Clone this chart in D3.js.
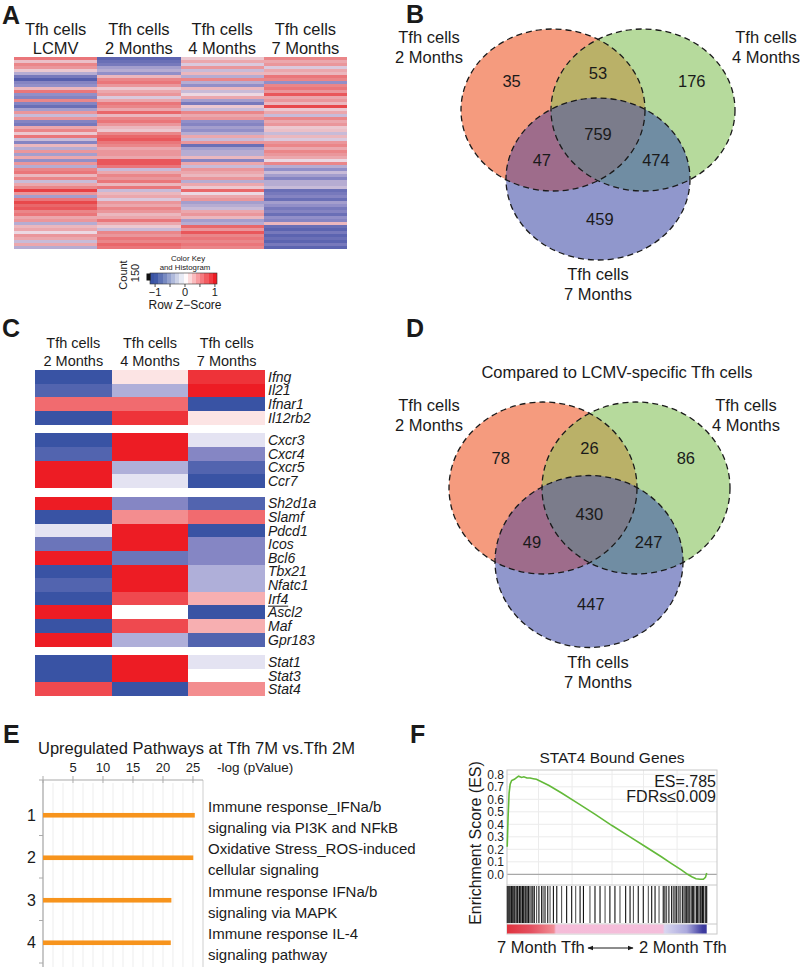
<!DOCTYPE html>
<html><head><meta charset="utf-8">
<script src="https://cdn.jsdelivr.net/npm/d3@7"></script>
<style>
body{margin:0;background:#fff;}
svg{display:block;font-family:"Liberation Sans",Arial,Helvetica,sans-serif;}
</style></head><body>
<svg id="fig" width="800" height="975"></svg>
<script>
// ================= DATA =================
// Panel A: row z-scores (64 binned rows per column, top to bottom)
const heatAColumns = ["LCMV", "2 Months", "4 Months", "7 Months"];
const heatA_LCMV = [0.6,0.15,0.5,0.4,0.1,-0.3,-0.7,-0.95,-0.6,-0.5,0.2,0.6,-0.5,-0.6,0.5,-0.6,-0.8,-0.4,0.4,-0.2,0.4,-0.6,-0.7,0.3,0.5,0.1,0.6,-0.2,-0.6,0.2,-0.3,0.4,
  -0.4,0.3,-0.5,0.4,-0.3,0.5,0.6,0.2,0.5,-0.2,0.3,0.5,0.95,0.4,-0.4,0.6,0.9,0.7,0.8,0.5,0.6,0.3,0.4,-0.3,0.2,0.3,0.0,0.4,0.3,-0.2,0.3,-0.3];
const heatA_2M = [-0.9,-0.8,-0.7,-0.4,-0.3,-0.5,0.2,0.5,0.6,0.4,0.1,0.3,0.4,-0.1,0.3,0.6,0.5,0.3,0.7,0.2,0.5,0.6,0.4,0.2,0.1,0.5,0.7,0.8,0.6,0.5,0.3,0.4,
  0.4,0.3,0.8,0.8,0.6,-0.2,0.3,0.5,0.4,0.6,0.2,0.6,-0.2,0.2,0.3,-0.1,0.4,0.3,0.5,0.4,0.2,0.3,0.6,0.3,0.1,-0.2,0.5,0.4,0.6,0.5,0.7,0.6];
const heatA_4M = [0.1,0.3,-0.1,0.4,-0.2,0.2,-0.3,0.5,-0.3,-0.5,0.2,-0.2,0.0,0.3,-0.4,-0.7,0.1,-0.2,0.5,0.3,0.4,-0.5,-0.6,-0.4,-0.5,-0.3,0.3,-0.2,0.4,-0.8,-0.4,-0.3,
  -0.3,0.2,-0.6,0.3,-0.2,0.4,0.3,0.2,0.4,-0.3,0.3,0.1,0.7,0.0,0.3,0.4,-0.4,-0.3,-0.2,0.3,0.4,0.2,-0.4,-0.3,0.7,0.4,0.8,0.5,0.6,0.5,0.6,0.5];
const heatA_7M = [0.5,0.3,0.4,-0.1,0.3,0.2,0.6,0.5,-0.5,0.5,0.6,0.4,0.8,0.3,0.4,0.2,0.9,0.1,0.3,-0.2,0.5,0.3,0.4,0.1,0.15,-0.2,0.2,-0.1,0.4,0.5,0.3,0.5,
  0.4,0.3,0.0,0.5,-0.3,-0.5,-0.2,-0.4,-0.6,-0.3,-0.3,-0.2,-0.8,-0.7,-0.6,-0.8,-0.4,-0.5,-0.7,-0.6,-0.8,-0.5,-0.6,0.2,-0.8,-0.9,-0.7,-0.9,-0.8,-0.9,-0.7,-0.9];
const colorKeyTicks = [-1, -0.5, 0, 0.5, 1];
const colorKeyLabels = [-1, 0, 1];

// Panel C
const heatCColumns = ["2 Months", "4 Months", "7 Months"];
const heatCGenes = ["Ifng","Il21","Ifnar1","Il12rb2","Cxcr3","Cxcr4","Cxcr5","Ccr7",
  "Sh2d1a","Slamf","Pdcd1","Icos","Bcl6","Tbx21","Nfatc1","Irf4","Ascl2","Maf","Gpr183",
  "Stat1","Stat3","Stat4"];
const heatCGroup = [0,0,0,0,1,1,1,1,2,2,2,2,2,2,2,2,2,2,2,3,3,3];
const heatC_2M = [-1,-0.85,0.65,-1,-1,-0.85,1,1,1,-1,-0.12,-0.7,1,-1,-0.85,-1,1,-1,1,-1,-1,0.8];
const heatC_4M = [0.12,-0.35,0.65,0.9,1,1,-0.35,-0.12,-0.55,0.5,1,1,-0.7,1,1,0.8,0,0.8,-0.35,1,1,-1];
const heatC_7M = [0.9,1,-1,0.12,-0.12,-0.55,-0.85,-1,-0.85,0.65,-1,-0.55,-0.55,-0.35,-0.35,0.35,-1,0.35,-0.85,-0.12,0,0.5];
const underlinedGenes = ["Irf4"];

// Panels B & D (Venn)
const vennSetNames = ["2 Months", "4 Months", "7 Months"];
const vennRegions = ["2M", "2M&4M", "4M", "2M&4M&7M", "2M&7M", "4M&7M", "7M"];
const vennB_counts = [35, 53, 176, 759, 47, 474, 459];
const vennD_counts = [78, 26, 86, 430, 49, 247, 447];
const vennD_title = "Compared to LCMV-specific Tfh cells";

// Panel E
const pathwayRanks = [1, 2, 3, 4];
const pathwayLine1 = ["Immune response_IFNa/b", "Oxidative Stress_ROS-induced", "Immune response IFNa/b", "Immune response IL-4"];
const pathwayLine2 = ["signaling via PI3K and NFkB", "cellular signaling", "signaling via MAPK", "signaling pathway"];
const pathwayValues = [25.3, 25.05, 21.4, 21.3];
const pathwayTicks = [5, 10, 15, 20, 25];

// Panel F (GSEA): rank position (% of list) and running enrichment score
const esRank  = [0.1,0.5,1,1.5,2.2,3.5,5,5.5,7,8,9.5,11,12.5,14,20,26,34,42,50,58,66,73.5,78,83,86,88,90,92,93.5,94.5,95.1];
const esScore = [0.22,0.45,0.65,0.72,0.75,0.76,0.78,0.785,0.775,0.78,0.77,0.77,0.765,0.76,0.71,0.65,0.565,0.48,0.39,0.305,0.22,0.14,0.09,0.035,0.0,-0.02,-0.035,-0.04,-0.04,-0.025,0.01];
const hitRanks = [0.16,0.6,0.95,1.4,1.75,2.1,2.54,3.0,3.4,3.8,4.4,4.8,5.1,5.7,6.0,6.3,7.0,7.4,7.8,8.25,8.9,9.5,9.9,10.2,10.95,11.75,12.3,13.0,14.1,15.2,16.5,17.2,18.1,19.4,20.5,22.1,23.7,
  26,28.4,30.8,32.7,34.8,36.4,39.5,41.9,44.3,46.7,49,51.4,53.8,56.5,58.6,60.2,62.5,64.9,67.3,68.9,70.5,72.4,
  74.4,75.2,76,77.1,78.4,79.2,80,80.8,81.6,82.4,83.5,84.2,84.8,85.4,86,86.6,87.1,87.9,88.4,88.9,89.5,90.3,90.7,91.1,91.9,92.3,92.7,93.1,93.5,94.3,94.7,95.1];
const esTicks = [0,0.1,0.2,0.3,0.4,0.5,0.6,0.7,0.8];
const esGridRanks = [15, 31, 50, 65, 81];

// ================= DRAW =================
const svg = d3.select("#fig");
const INK = "#1a1a1a";
const defs = svg.append("defs");

// panel letters
[["A",2,24],["B",406,23],["C",2,337],["D",406,337],["E",3,743],["F",410,743]].forEach(([t,x,y]) =>
  svg.append("text").attr("x",x).attr("y",y).attr("font-size",25).attr("font-weight","bold").attr("fill",INK).text(t));

// ---------- Panel A ----------
const colA = d3.scaleLinear().domain([-1,-0.5,0,0.5,1])
  .range(["#4f59aa","#928fc8","#ecd8e2","#ea8689","#e8383c"]).clamp(true);
const xA = d3.scaleBand().domain(heatAColumns).range([14,347]);
const yA = d3.scaleBand().domain(d3.range(heatA_LCMV.length)).range([57,249]);
const colsA = [heatA_LCMV, heatA_2M, heatA_4M, heatA_7M];
const gA = svg.append("g");
colsA.forEach((vals, ci) => {
  gA.selectAll(null).data(vals).enter().append("rect")
    .attr("x", xA(heatAColumns[ci])).attr("width", xA.bandwidth())
    .attr("y", (d,i)=>yA(i)).attr("height", yA.bandwidth()+0.3)
    .attr("fill", d=>colA(d)).attr("shape-rendering","crispEdges");
  const cx = xA(heatAColumns[ci]) + xA.bandwidth()/2;
  gA.append("text").attr("x",cx).attr("y",35).attr("text-anchor","middle").attr("font-size",16.5).attr("fill",INK).text("Tfh cells");
  gA.append("text").attr("x",cx).attr("y",54).attr("text-anchor","middle").attr("font-size",16.5).attr("fill",INK).text(heatAColumns[ci]);
});
// color key
const keyCol = d3.scaleLinear().domain([-1,0,1]).range(["#3953a4","#ffffff","#ed1c24"]).clamp(true);
const xKey = d3.scaleLinear().domain([-1.17,1.07]).range([150,217]);
const keyBins = d3.range(16).map(i => -1.17 + i*(2.24/16));
gA.selectAll(null).data(keyBins).enter().append("rect")
  .attr("x", d=>xKey(d)).attr("width", xKey(-1.17+2.24/16)-xKey(-1.17)+0.3)
  .attr("y",273).attr("height",11).attr("fill", d=>keyCol(d+0.07)).attr("shape-rendering","crispEdges");
gA.append("rect").attr("x",150).attr("y",273).attr("width",67).attr("height",11).attr("fill","none").attr("stroke","#333").attr("stroke-width",0.6);
gA.append("rect").attr("x",146.5).attr("y",273.5).attr("width",4).attr("height",7).attr("fill","#111");
colorKeyTicks.forEach(t => gA.append("line").attr("x1",xKey(t)).attr("x2",xKey(t)).attr("y1",284).attr("y2",287).attr("stroke","#222").attr("stroke-width",0.8));
colorKeyLabels.forEach(t => gA.append("text").attr("x",xKey(t)).attr("y",296).attr("text-anchor","middle").attr("font-size",11).attr("fill",INK).text(t<0?"\u2212"+Math.abs(t):t));
gA.append("text").attr("x",188).attr("y",260.5).attr("text-anchor","middle").attr("font-size",7.8).attr("fill",INK).text("Color Key");
gA.append("text").attr("x",185).attr("y",269.5).attr("text-anchor","middle").attr("font-size",7.8).attr("fill",INK).text("and Histogram");
gA.append("text").attr("x",185).attr("y",308.5).attr("text-anchor","middle").attr("font-size",12).attr("fill",INK).text("Row Z\u2212Score");
gA.append("text").attr("transform","translate(127,275) rotate(-90)").attr("text-anchor","middle").attr("font-size",11).attr("fill",INK).text("Count");
gA.append("text").attr("transform","translate(139,273) rotate(-90)").attr("text-anchor","middle").attr("font-size",11).attr("fill",INK).text("150");

// ---------- Panel C ----------
const colC = d3.scaleLinear().domain([-1,-0.5,0,0.5,1])
  .range(["#3953a4","#8d8cc8","#ffffff","#f38d8f","#ed1c24"]).clamp(true);
const xC = d3.scaleBand().domain(heatCColumns).range([35,265]);
const gapUnits = 0.65;
const nGroups = d3.max(heatCGroup)+1;
const yC = d3.scaleLinear().domain([0, heatCGenes.length + (nGroups-1)*gapUnits]).range([370,696]);
const rowH = yC(1)-yC(0);
const rowY = i => yC(i + heatCGroup[i]*gapUnits);
const gC = svg.append("g");
[heatC_2M, heatC_4M, heatC_7M].forEach((vals, ci) => {
  gC.selectAll(null).data(vals).enter().append("rect")
    .attr("x", xC(heatCColumns[ci])).attr("width", xC.bandwidth()+0.3)
    .attr("y", (d,i)=>rowY(i)).attr("height", rowH+0.3)
    .attr("fill", d=>colC(d)).attr("shape-rendering","crispEdges");
  const cx = xC(heatCColumns[ci]) + xC.bandwidth()/2;
  gC.append("text").attr("x",cx).attr("y",348).attr("text-anchor","middle").attr("font-size",14.5).attr("fill",INK).text("Tfh cells");
  gC.append("text").attr("x",cx).attr("y",366).attr("text-anchor","middle").attr("font-size",14.5).attr("fill",INK).text(heatCColumns[ci]);
});
heatCGenes.forEach((g,i) => {
  const t = gC.append("text").attr("x",268).attr("y",rowY(i)+rowH/2+5).attr("font-size",14)
    .attr("font-style","italic").attr("fill",INK).text(g);
  if (underlinedGenes.includes(g)) {
    const w = t.node().getComputedTextLength();
    gC.append("line").attr("x1",268).attr("x2",268+w).attr("y1",rowY(i)+rowH/2+7.5).attr("y2",rowY(i)+rowH/2+7.5).attr("stroke",INK).attr("stroke-width",1);
  }
});

// ---------- Venn panels ----------
const vennFill = {a:"#f59b7e", b:"#b6da9c", c:"#9097cc", ab:"#bab168", ac:"#9e6c8b", bc:"#708da3", abc:"#7b7c8b"};
function venn(id, centers, rx, ry, counts, labels) {
  const g = svg.append("g");
  centers.forEach((c,i) => {
    defs.append("clipPath").attr("id",`${id}clip${i}`).append("ellipse")
      .attr("cx",c[0]).attr("cy",c[1]).attr("rx",rx).attr("ry",ry);
  });
  const ell = (parent, c, fill) => parent.append("ellipse").attr("cx",c[0]).attr("cy",c[1]).attr("rx",rx).attr("ry",ry).attr("fill",fill);
  ell(g, centers[0], vennFill.a);
  ell(g, centers[1], vennFill.b);
  ell(g, centers[2], vennFill.c);
  ell(g.append("g").attr("clip-path",`url(#${id}clip0)`), centers[1], vennFill.ab);
  ell(g.append("g").attr("clip-path",`url(#${id}clip0)`), centers[2], vennFill.ac);
  ell(g.append("g").attr("clip-path",`url(#${id}clip1)`), centers[2], vennFill.bc);
  ell(g.append("g").attr("clip-path",`url(#${id}clip0)`).append("g").attr("clip-path",`url(#${id}clip1)`), centers[2], vennFill.abc);
  centers.forEach(c => g.append("ellipse").attr("cx",c[0]).attr("cy",c[1]).attr("rx",rx).attr("ry",ry)
    .attr("fill","none").attr("stroke","#1a1a1a").attr("stroke-width",1.3).attr("stroke-dasharray","6,4"));
  const [A,B,C] = centers;
  const cen = [(A[0]+B[0]+C[0])/3, (A[1]+B[1]+C[1])/3];
  const pos = [
    [A[0]-0.45*rx, A[1]-0.35*ry],
    [(A[0]+B[0])/2, (A[1]+B[1])/2-0.46*ry],
    [B[0]+0.53*rx, B[1]-0.35*ry],
    [cen[0], cen[1]+0.02*ry],
    [cen[0]-0.61*rx, cen[1]+0.34*ry],
    [cen[0]+0.63*rx, cen[1]+0.34*ry],
    [C[0]+0.02*rx, C[1]+0.5*ry]
  ];
  counts.forEach((v,i) => g.append("text").attr("x",pos[i][0]).attr("y",pos[i][1]).attr("dy","0.35em")
    .attr("text-anchor","middle").attr("font-size",16.5).attr("fill",INK).text(v));
  labels.forEach(([x,y,name]) => {
    g.append("text").attr("x",x).attr("y",y).attr("text-anchor","middle").attr("font-size",16.5).attr("fill",INK).text("Tfh cells");
    g.append("text").attr("x",x).attr("y",y+20).attr("text-anchor","middle").attr("font-size",16.5).attr("fill",INK).text(name);
  });
  return g;
}
venn("vb", [[553,110],[643,110],[598,179]], 92, 81, vennB_counts,
  [[429,43,vennSetNames[0]],[766,43,vennSetNames[1]],[598,280,vennSetNames[2]]]);
venn("vd", [[543,488],[636,488],[589,561.5]], 94, 86, vennD_counts,
  [[429,411,vennSetNames[0]],[746,411,vennSetNames[1]],[598,668,vennSetNames[2]]]);
svg.append("text").attr("x",617).attr("y",378).attr("text-anchor","middle").attr("font-size",16.5).attr("fill",INK).text(vennD_title);

// ---------- Panel E ----------
const gE = svg.append("g");
const xE = d3.scaleLinear().domain([0, 26.67]).range([43, 203]);
const yE = d3.scaleBand().domain(pathwayRanks).range([793, 963]);
gE.append("text").attr("x",38).attr("y",754).attr("font-size",16.5).attr("fill",INK).text("Upregulated Pathways at Tfh 7M vs.Tfh 2M");
d3.range(0, 26.6, 5/3).forEach(v => gE.append("line").attr("x1",xE(v)).attr("x2",xE(v)).attr("y1",783).attr("y2",967)
  .attr("stroke","#ededed").attr("stroke-width",1));
gE.append("line").attr("x1",xE.range()[1]).attr("x2",xE.range()[1]).attr("y1",780).attr("y2",967).attr("stroke","#cfcfcf");
gE.append("line").attr("x1",39).attr("x2",xE.range()[1]).attr("y1",780).attr("y2",780).attr("stroke","#aaa").attr("stroke-width",1.2);
gE.append("line").attr("x1",xE(0)).attr("x2",xE(0)).attr("y1",780).attr("y2",967).attr("stroke","#aaa").attr("stroke-width",1.2);
[0].concat(pathwayTicks).forEach(t => gE.append("line").attr("x1",xE(t)).attr("x2",xE(t)).attr("y1",776).attr("y2",783).attr("stroke","#aaa"));
pathwayTicks.forEach(t => gE.append("text").attr("x",xE(t)).attr("y",772).attr("text-anchor","middle").attr("font-size",13).attr("fill",INK).text(t));
gE.append("text").attr("x",217).attr("y",772).attr("font-size",13.5).attr("fill",INK).text("-log (pValue)");
pathwayRanks.forEach(r => gE.append("line").attr("x1",39).attr("x2",xE(0)).attr("y1",yE(r)+yE.bandwidth()).attr("y2",yE(r)+yE.bandwidth()).attr("stroke","#aaa"));
pathwayRanks.forEach((r,i) => {
  const cy = yE(r) + yE.bandwidth()/2 + 1;
  gE.append("rect").attr("x",xE(0)).attr("y",cy-2.3).attr("width",xE(pathwayValues[i])-xE(0)).attr("height",4.6).attr("fill","#f7941d");
  gE.append("text").attr("x",36).attr("y",cy).attr("dy","0.35em").attr("text-anchor","end").attr("font-size",16).attr("fill",INK).text(r);
  gE.append("text").attr("x",208).attr("y",cy-9).attr("dy","0.35em").attr("font-size",15).attr("fill",INK).text(pathwayLine1[i]);
  gE.append("text").attr("x",208).attr("y",cy+12).attr("dy","0.35em").attr("font-size",15).attr("fill",INK).text(pathwayLine2[i]);
});

// ---------- Panel F ----------
const gF = svg.append("g");
const xF = d3.scaleLinear().domain([0,100]).range([507,717]);
const yF = d3.scaleLinear().domain([0,0.8]).range([874.3,774.3]);
const topY = 770, esBottom = 885, hitBottom = 924, barBottom = 934;
esTicks.slice(1).forEach(t => gF.append("line").attr("x1",xF(0)).attr("x2",xF(100)).attr("y1",yF(t)).attr("y2",yF(t)).attr("stroke","#ececec"));
esGridRanks.forEach(r => gF.append("line").attr("x1",xF(r)).attr("x2",xF(r)).attr("y1",topY).attr("y2",esBottom).attr("stroke","#ececec"));
gF.append("line").attr("x1",xF(0)).attr("x2",xF(100)).attr("y1",yF(0)).attr("y2",yF(0)).attr("stroke","#a8a8a8").attr("stroke-width",1.2);
gF.append("rect").attr("x",xF(0)).attr("y",topY).attr("width",xF(100)-xF(0)).attr("height",barBottom-topY).attr("fill","none").attr("stroke","#c8c8c8");
[esBottom, hitBottom].forEach(y => gF.append("line").attr("x1",xF(0)).attr("x2",xF(100)).attr("y1",y).attr("y2",y).attr("stroke","#c8c8c8"));
esTicks.forEach(t => gF.append("text").attr("x",504).attr("y",yF(t)).attr("dy","0.35em").attr("text-anchor","end").attr("font-size",12).attr("fill",INK).text(t.toFixed(1)));
gF.append("path").datum(esRank.map((r,i)=>[r, esScore[i]]))
  .attr("d", d3.line().x(d=>xF(d[0])).y(d=>yF(d[1])))
  .attr("fill","none").attr("stroke","#63b939").attr("stroke-width",1.6);
gF.selectAll(null).data(hitRanks).enter().append("line")
  .attr("x1",d=>xF(d)).attr("x2",d=>xF(d)).attr("y1",esBottom+1).attr("y2",hitBottom-1)
  .attr("stroke",(d,i)=> i%3===1 ? "#555" : "#111").attr("stroke-width",1.1);
const grad = defs.append("linearGradient").attr("id","rankGrad").attr("x1","0").attr("x2","1").attr("y1","0").attr("y2","0");
[[0,"#e0323d"],[0.12,"#e45060"],[0.235,"#f18d95"],[0.245,"#f5bcd8"],[0.78,"#f4bedb"],[0.79,"#d8d6f0"],[0.9,"#aaa8dc"],[0.98,"#3d3b9f"],[1,"#3a389c"]]
  .forEach(([o,c]) => grad.append("stop").attr("offset",o).attr("stop-color",c));
gF.append("rect").attr("x",xF(0)).attr("y",hitBottom+0.5).attr("width",xF(d3.max(esRank))-xF(0)).attr("height",barBottom-hitBottom-1).attr("fill","url(#rankGrad)");
gF.append("text").attr("x",612).attr("y",763).attr("text-anchor","middle").attr("font-size",15.5).attr("fill",INK).text("STAT4 Bound Genes");
gF.append("text").attr("x",716).attr("y",787).attr("text-anchor","end").attr("font-size",16).attr("fill",INK).text("ES=.785");
gF.append("text").attr("x",716).attr("y",802).attr("text-anchor","end").attr("font-size",16).attr("fill",INK).text("FDRs\u22640.009");
gF.append("text").attr("transform","translate(481,843) rotate(-90)").attr("text-anchor","middle").attr("font-size",16).attr("fill",INK).text("Enrichment Score (ES)");
gF.append("text").attr("x",497).attr("y",953).attr("font-size",16.5).attr("fill",INK).text("7 Month Tfh");
gF.append("text").attr("x",639).attr("y",953).attr("font-size",16.5).attr("fill",INK).text("2 Month Tfh");
defs.append("marker").attr("id","arrowhead").attr("viewBox","0 0 10 10").attr("refX",9).attr("refY",5)
  .attr("markerWidth",6).attr("markerHeight",6).attr("orient","auto-start-reverse")
  .append("path").attr("d","M0,1 L10,5 L0,9 Z").attr("fill",INK);
gF.append("line").attr("x1",588).attr("x2",633).attr("y1",948).attr("y2",948).attr("stroke",INK).attr("stroke-width",1)
  .attr("marker-start","url(#arrowhead)").attr("marker-end","url(#arrowhead)");
</script>
</body></html>
